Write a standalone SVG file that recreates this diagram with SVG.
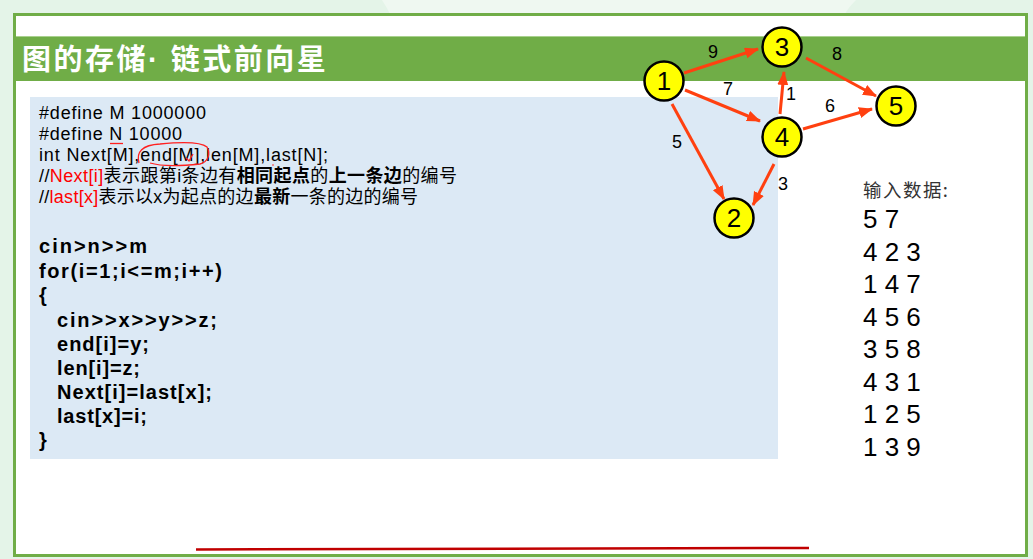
<svg xmlns="http://www.w3.org/2000/svg" width="1033" height="559" viewBox="0 0 1033 559">
<defs>
<style>
.code{font-family:"Liberation Sans","Noto Sans CJK SC",sans-serif;font-size:18px;fill:#000}
.bcode{font-family:"Liberation Sans",Arial,sans-serif;font-size:20px;font-weight:bold;fill:#000}
.red{fill:#ff0000}
.b{font-weight:bold}
.node circle{fill:#ffff00;stroke:#000;stroke-width:2.5}
.node text{font-family:"Liberation Sans",Arial,sans-serif;font-size:26px;text-anchor:middle;fill:#000}
.elabel{font-family:"Liberation Sans",Arial,sans-serif;font-size:18px;fill:#000;text-anchor:middle}
.edge{stroke:#ff4010;stroke-width:3;fill:none;marker-end:url(#arr)}
.data{font-family:"Liberation Sans",Arial,sans-serif;font-size:26px;fill:#000}
.title{font-family:"Liberation Sans","Noto Sans CJK SC",sans-serif;font-size:29px;font-weight:bold;fill:#ffffff}
</style>
<marker id="arr" markerUnits="userSpaceOnUse" markerWidth="14" markerHeight="12" refX="13" refY="5.5" orient="auto">
<path d="M0,0 L14,5.5 L0,11 z" fill="#ff4010"/>
</marker>
</defs>
<g id="background">
<rect x="0" y="0" width="1033" height="559" fill="#e4f4e8"/>
<path d="M382,0 L856,0 Q848,8 845,14 L390,14 Q386,6 382,0 z" fill="#eff8f1"/>
<rect x="14.5" y="14.5" width="1012" height="541" fill="#ffffff" stroke="#70ad47" stroke-width="3"/>
<rect x="16" y="36" width="1009" height="45" fill="#70ad47"/>
<line x1="16" y1="36.5" x2="1025" y2="36.5" stroke="#a9d18e" stroke-width="1"/>
<text class="title" x="22" y="70" letter-spacing="2.5">图的存储· 链式前向星</text>
</g>
<g id="code">
<rect x="30" y="97" width="748" height="362" fill="#dce9f5"/>
<text class="code" x="39" y="119" textLength="167" lengthAdjust="spacing">#define M 1000000</text>
<text class="code" x="39" y="140" textLength="143" lengthAdjust="spacing">#define N 10000</text>
<text class="code" x="39" y="161" textLength="289" lengthAdjust="spacing">int Next[M],end[M],len[M],last[N];</text>
<text class="code" x="39" y="182" textLength="418" lengthAdjust="spacing">//<tspan class="red">Next[i]</tspan>表示跟第i条边有<tspan class="b">相同起点</tspan>的<tspan class="b">上一条边</tspan>的编号</text>
<text class="code" x="39" y="203" textLength="379" lengthAdjust="spacing">//<tspan class="red">last[x]</tspan>表示以x为起点的边<tspan class="b">最新</tspan>一条的边的编号</text>
<text class="bcode" x="39" y="253" textLength="108" lengthAdjust="spacing">cin&gt;n&gt;&gt;m</text>
<text class="bcode" x="39" y="278" textLength="183" lengthAdjust="spacing">for(i=1;i&lt;=m;i++)</text>
<text class="bcode" x="39" y="302">{</text>
<text class="bcode" x="57" y="327" textLength="160" lengthAdjust="spacing">cin&gt;&gt;x&gt;&gt;y&gt;&gt;z;</text>
<text class="bcode" x="57" y="351" textLength="92" lengthAdjust="spacing">end[i]=y;</text>
<text class="bcode" x="57" y="375" textLength="83" lengthAdjust="spacing">len[i]=z;</text>
<text class="bcode" x="57" y="399" textLength="155" lengthAdjust="spacing">Next[i]=last[x];</text>
<text class="bcode" x="57" y="423" textLength="90" lengthAdjust="spacing">last[x]=i;</text>
<text class="bcode" x="39" y="447">}</text>
</g>
<g id="annotations" fill="none" stroke="#ff2020" stroke-width="1.3">
<line x1="110" y1="143.5" x2="123" y2="143.5"/>
<path d="M139,163 C136,152 142,145 160,144 C180,142 200,141 207,147 C211,154 208,162 200,164 C180,166 160,166 150,163"/>
<path d="M186,158 L189,161 L193,154"/>
<circle cx="273" cy="165" r="0.8" fill="#ff2020" stroke="none"/>
</g>
<g id="connectors">
<line class="edge" x1="684" y1="73" x2="758" y2="49"/>
<line class="edge" x1="806" y1="58" x2="876" y2="96"/>
<line class="edge" x1="685" y1="90" x2="760" y2="121"/>
<line class="edge" x1="780" y1="114" x2="784" y2="72"/>
<line class="edge" x1="803" y1="129" x2="872" y2="109"/>
<line class="edge" x1="672" y1="104" x2="724" y2="199"/>
<line class="edge" x1="774" y1="164" x2="753" y2="205"/>
<text class="elabel" x="713" y="58">9</text>
<text class="elabel" x="837" y="60">8</text>
<text class="elabel" x="728" y="95">7</text>
<text class="elabel" x="791" y="100">1</text>
<text class="elabel" x="830" y="112">6</text>
<text class="elabel" x="677" y="148">5</text>
<text class="elabel" x="783" y="190">3</text>
</g>
<g id="node1" class="node"><circle cx="664" cy="81" r="19.5"/><text x="664" y="90">1</text></g>
<g id="node2" class="node"><circle cx="734" cy="218" r="19.5"/><text x="734" y="227">2</text></g>
<g id="node3" class="node"><circle cx="782" cy="47" r="19.5"/><text x="782" y="56">3</text></g>
<g id="node4" class="node"><circle cx="782" cy="137" r="19.5"/><text x="782" y="146">4</text></g>
<g id="node5" class="node"><circle cx="896" cy="106" r="19.5"/><text x="896" y="115">5</text></g>
<g id="input">
<text x="863" y="197" font-family="Noto Sans CJK SC,sans-serif" font-size="18.5" fill="#333333" textLength="85" lengthAdjust="spacing">输入数据:</text>
<text class="data" x="863" y="228">5 7</text>
<text class="data" x="863" y="261">4 2 3</text>
<text class="data" x="863" y="293">1 4 7</text>
<text class="data" x="863" y="326">4 5 6</text>
<text class="data" x="863" y="358">3 5 8</text>
<text class="data" x="863" y="391">4 3 1</text>
<text class="data" x="863" y="423">1 2 5</text>
<text class="data" x="863" y="456">1 3 9</text>
</g>
<line x1="196" y1="549.5" x2="809" y2="548" stroke="#c00000" stroke-width="2.5"/>
</svg>
